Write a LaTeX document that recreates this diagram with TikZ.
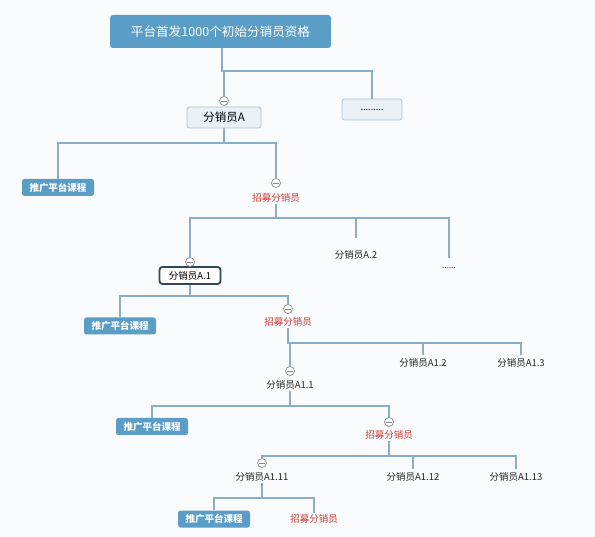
\documentclass[tikz,border=0pt]{standalone}
\usepackage{fontspec}
\setmainfont{Noto Sans CJK SC}
\definecolor{bg}{HTML}{FAFBFC}
\definecolor{rootblue}{HTML}{5A9DC6}
\definecolor{topicfill}{HTML}{E9F1F7}
\definecolor{topicdraw}{HTML}{A7C3D8}
\definecolor{linec}{HTML}{88AECA}
\definecolor{redt}{HTML}{CF3A34}
\definecolor{darkb}{HTML}{2F4656}
\definecolor{collg}{HTML}{8A8A8A}
\begin{document}
\begin{tikzpicture}[x=1pt,y=-1pt,
  root/.style={fill=rootblue,text=white,rounded corners=3pt,minimum width=221pt,minimum height=33pt,inner sep=0pt,font=\fontsize{12.6}{15}\selectfont},
  topic/.style={fill=topicfill,draw=topicdraw,line width=0.8pt,rounded corners=2.5pt,minimum height=21pt,inner sep=0pt,font=\fontsize{11.5}{13}\selectfont},
  bluebox/.style={fill=rootblue,text=white,rounded corners=2.5pt,minimum width=72pt,minimum height=17pt,inner sep=0pt,font=\bfseries\fontsize{9.5}{11}\selectfont},
  redtxt/.style={text=redt,inner sep=1pt,font=\fontsize{9.5}{11}\selectfont},
  plain/.style={text=black!85,inner sep=1pt,font=\fontsize{9.5}{11}\selectfont},
  selbox/.style={draw=darkb,line width=1.8pt,fill=white,rounded corners=3pt,minimum width=61pt,minimum height=17pt,inner sep=0pt,font=\fontsize{9.5}{11}\selectfont},
  coll/.style={circle,draw=collg,fill=white,line width=0.7pt,minimum size=9pt,inner sep=0pt,
    path picture={\draw[collg,line width=0.7pt] ([xshift=-2.6pt]path picture bounding box.center) -- ([xshift=2.6pt]path picture bounding box.center);}},
  conn/.style={draw=linec,line width=1.25pt}
]
\fill[bg] (0,0) rectangle (595,537);
\useasboundingbox (0,0) rectangle (595,537);

% level 0
\node[root] (root) at (220.5,31.5) {平台首发1000个初始分销员资格};
\node[topic,minimum width=74pt] (A) at (224,117.5) {分销员A};
\node[topic,minimum width=60pt,font=\fontsize{9}{10}\selectfont] (dots1) at (372,109.5) {.........};
\node[coll] (cA) at (224,101) {};
\coordinate (j0) at (222,71);
\draw[conn] (root.south -| j0) -- (j0) -| (dots1.north);
\draw[conn] (j0) -| (cA.north);

% level 1
\node[bluebox] (p1) at (58,187.5) {推广平台课程};
\node[coll] (c1) at (276,183) {};
\node[redtxt] (r1) at (276,198) {招募分销员};
\coordinate (j1) at (224,143);
\draw[conn] (A.south) -- (j1);
\draw[conn] (p1.north) |- (j1) -| (c1.north);

% level 2
\node[selbox] (A1) at (190,275.5) {分销员A.1};
\node[coll] (cA1) at (190,262) {};
\node[plain] (A2) at (356,255) {分销员A.2};
\node[plain,font=\fontsize{8}{9}\selectfont] (dots2) at (449,268) {......};
\coordinate (j2) at (276,218);
\coordinate (e2) at (356,238);
\coordinate (e3) at (449,258);
\draw[conn] (r1.south) -- (j2);
\draw[conn] (cA1.north) |- (j2) -| (e3);
\draw[conn] (j2) -| (e2);

% level 3
\node[bluebox] (p2) at (120,326) {推广平台课程};
\node[coll] (c2) at (288,309) {};
\node[redtxt] (r2) at (288,322) {招募分销员};
\coordinate (j3) at (190,296);
\draw[conn] (A1.south) -- (j3);
\draw[conn] (p2.north) |- (j3) -| (c2.north);

% level 4
\node[coll] (cA11) at (290,371) {};
\node[plain] (A11) at (290,385) {分销员A1.1};
\node[plain] (A12) at (423,363) {分销员A1.2};
\node[plain] (A13) at (521,363) {分销员A1.3};
\coordinate (j4) at (288,343);
\coordinate (e4) at (423,355);
\coordinate (e5) at (521,355);
\draw[conn] (r2.south) -- (j4) -| (e5);
\draw[conn] (j4) -| (e4);
\draw[conn] (j4 -| cA11) -- (cA11.north);

% level 5
\node[bluebox] (p3) at (152,426.5) {推广平台课程};
\node[coll] (c3) at (389,422) {};
\node[redtxt] (r3) at (389,435) {招募分销员};
\coordinate (j5) at (290,406);
\draw[conn] (A11.south) -- (j5);
\draw[conn] (p3.north) |- (j5) -| (c3.north);

% level 6
\node[coll] (cA111) at (262,463) {};
\node[plain] (A111) at (262,477) {分销员A1.11};
\node[plain] (A112) at (413,477) {分销员A1.12};
\node[plain] (A113) at (516,477) {分销员A1.13};
\coordinate (j6) at (389,456);
\coordinate (e6) at (413,469);
\coordinate (e7) at (516,469);
\draw[conn] (r3.south) -- (j6);
\draw[conn] (cA111.north) |- (j6) -| (e7);
\draw[conn] (j6) -| (e6);

% level 7
\node[bluebox] (p4) at (214,519) {推广平台课程};
\node[redtxt] (r4) at (314,519) {招募分销员};
\coordinate (j7) at (262,498);
\draw[conn] (A111.south) -- (j7);
\draw[conn] (p4.north) |- (j7) -| (r4.north);
\end{tikzpicture}
\end{document}
